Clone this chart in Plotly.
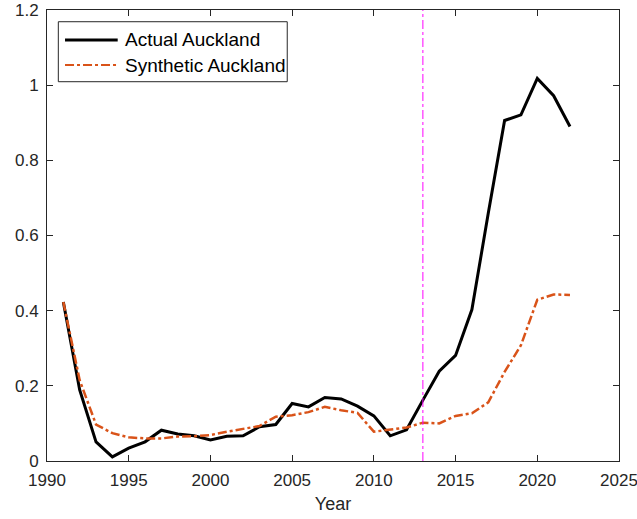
import plotly.graph_objects as go

years = list(range(1991, 2023))
actual = [0.423, 0.189, 0.051, 0.011, 0.034, 0.051, 0.082, 0.072, 0.067, 0.056,
          0.066, 0.067, 0.091, 0.097, 0.153, 0.144, 0.169, 0.165, 0.146, 0.120,
          0.067, 0.083, 0.162, 0.239, 0.281, 0.403, 0.659, 0.906, 0.921, 1.018,
          0.972, 0.890]
synthetic = [0.423, 0.215, 0.097, 0.074, 0.063, 0.060, 0.060, 0.065, 0.066, 0.069,
             0.078, 0.086, 0.093, 0.118, 0.122, 0.130, 0.144, 0.135, 0.128, 0.078,
             0.084, 0.089, 0.102, 0.100, 0.120, 0.127, 0.156, 0.237, 0.308, 0.429,
             0.443, 0.442]
treat_year = 2013
x_ticks = [1990, 1995, 2000, 2005, 2010, 2015, 2020, 2025]
y_ticks = [0, 0.2, 0.4, 0.6, 0.8, 1, 1.2]
y_ticklabels = ["0", "0.2", "0.4", "0.6", "0.8", "1", "1.2"]
series_names = ["Actual Auckland", "Synthetic Auckland"]

BLACK = "black"
ORANGE = "#D95319"
AXC = "#262626"

fig = go.Figure()
fig.add_trace(go.Scatter(x=years, y=actual, mode="lines", name=series_names[0],
                         showlegend=False, line=dict(color=BLACK, width=3)))
fig.add_trace(go.Scatter(x=years, y=synthetic, mode="lines", name=series_names[1],
                         showlegend=False,
                         line=dict(color=ORANGE, width=2.5, dash="dashdot")))
fig.add_trace(go.Scatter(x=[treat_year, treat_year], y=[0, 1.2], mode="lines",
                         showlegend=False,
                         line=dict(color="#FF00FF", width=1, dash="dashdot")))

axis_common = dict(showgrid=False, zeroline=False, showline=True, linecolor=AXC,
                   linewidth=1, mirror="ticks", ticks="inside", ticklen=6,
                   tickcolor=AXC, automargin=False, ticklabeloverflow="allow",
                   tickfont=dict(size=17, color=AXC))
fig.update_xaxes(range=[1990, 2025], tickvals=x_ticks, ticklabelstandoff=4,
                 title=dict(text="Year", font=dict(size=18, color=AXC), standoff=7),
                 **axis_common)
fig.update_yaxes(range=[0, 1.2], tickvals=y_ticks, ticktext=y_ticklabels,
                 ticklabelstandoff=4, **axis_common)

# legend box drawn manually (matches reference proportions)
fig.add_shape(type="rect", xref="paper", yref="paper", x0=0.0198, x1=0.420,
              y0=0.841, y1=0.974, line=dict(color=AXC, width=1), fillcolor="white",
              layer="above")
legend_rows = [(0.9335, BLACK, "solid", 3), (0.878, ORANGE, "dashdot", 2)]
for (yy, col, dash, w), name in zip(legend_rows, series_names):
    fig.add_shape(type="line", xref="paper", yref="paper", x0=0.0315, x1=0.1236,
                  y0=yy, y1=yy, line=dict(color=col, width=w, dash=dash), layer="above")
    fig.add_annotation(xref="paper", yref="paper", x=0.1329, y=yy, text=name,
                       showarrow=False, xanchor="left", yanchor="middle",
                       font=dict(size=19, color="black"))

fig.update_layout(
    width=637, height=519,
    margin=dict(l=47, r=18, t=10, b=58),
    paper_bgcolor="white", plot_bgcolor="white",
    font=dict(family="Liberation Sans, Arial, sans-serif", color=AXC),
    showlegend=False,
)
fig.write_html("out.html", config={"displayModeBar": False},
               post_script="document.body.style.margin='0';")
